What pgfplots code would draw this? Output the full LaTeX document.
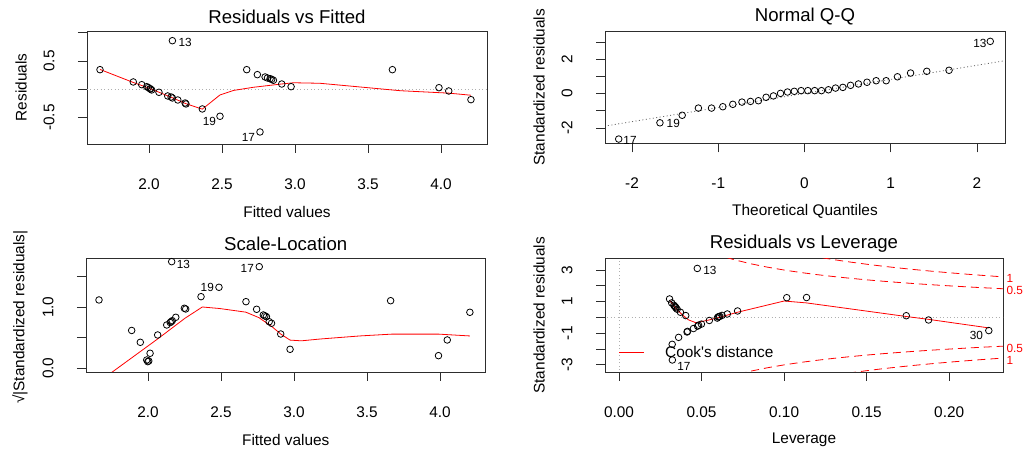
\documentclass[border=0pt]{standalone}
\usepackage{fontspec}
\setmainfont{Liberation Sans}
\usepackage{pgfplots}
\pgfplotsset{compat=1.18}
\definecolor{rred}{RGB}{255,0,0}
\definecolor{rgray}{RGB}{175,175,175}
\definecolor{boxc}{RGB}{45,45,45}
\newcommand{\lab}{\fontsize{15.4}{18}\selectfont}
\newcommand{\ttl}{\fontsize{18.6}{22}\selectfont}
\newcommand{\idf}{\fontsize{11.8}{14}\selectfont}
\pgfplotsset{
  rdiag/.style={
    scale only axis,
    anchor=south west,
    axis line style={boxc, line width=0.8pt},
    tick style={boxc, line width=0.8pt},
    tick align=outside,
    major tick length=9pt,
    xtick pos=left, ytick pos=left,
    clip mode=individual,
    tick label style={font=\lab},
    xticklabel style={anchor=center, yshift=-31pt},
    yticklabel style={anchor=center, xshift=-29pt, rotate=90},
    every axis x label/.style={at={(axis description cs:0.5,0)}, anchor=center, yshift=-68pt, font=\lab},
    every axis y label/.style={at={(axis description cs:0,0.5)}, anchor=center, xshift=-66pt, rotate=90, font=\lab},
    every axis title/.style={at={(axis description cs:0.5,1)}, anchor=center, yshift=14.5pt, font=\ttl},
  },
  pts/.style={only marks, mark=o, mark size=3.3pt, mark options={black, line width=0.8pt}},
  redl/.style={rred, line width=0.8pt, no marks},
  dotg/.style={rgray, line width=0.8pt, dash pattern=on 1pt off 2.5pt, no marks},
  cook/.style={rred, line width=0.8pt, dash pattern=on 8pt off 5pt, no marks},
}
\begin{document}
\begin{tikzpicture}
\fill[white] (0,0) rectangle (1026pt,454pt);
\useasboundingbox (0,0) rectangle (1026pt,454pt);

% ---------------- Residuals vs Fitted ----------------
\begin{axis}[rdiag, at={(87pt,310pt)}, width=400pt, height=113pt,
  xmin=1.575, xmax=4.315, ymin=-0.965, ymax=1.028,
  xtick={2,2.5,3,3.5,4}, xticklabels={2.0,2.5,3.0,3.5,4.0},
  ytick={-0.5,0,0.5,1}, yticklabels={-0.5,,0.5,},
  title={Residuals vs Fitted}, xlabel={Fitted values}, ylabel={Residuals}]
\addplot[dotg] coordinates {(1.5,0) (4.4,0)};
\addplot[redl] coordinates {(1.664,0.350) (1.892,0.120) (2.000,0.020) (2.160,-0.150) (2.253,-0.255) (2.365,-0.350) (2.486,-0.100) (2.580,-0.020) (2.714,0.035) (2.907,0.093) (2.990,0.115) (3.170,0.106) (3.490,0.030) (3.720,-0.025) (3.990,-0.060) (4.053,-0.068) (4.205,-0.105)};
\addplot[pts] coordinates {(1.664,0.346) (1.892,0.129) (1.950,0.081) (1.984,0.046) (1.995,0.030) (2.007,0.011) (2.010,0.003) (2.018,-0.012) (2.068,-0.053) (2.128,-0.118) (2.151,-0.136) (2.160,-0.153) (2.197,-0.189) (2.247,-0.242) (2.253,-0.259) (2.365,-0.347) (2.486,-0.476) (2.160,0.857) (2.669,0.346) (2.742,0.258) (2.795,0.217) (2.811,0.199) (2.829,0.187) (2.840,0.175) (2.852,0.159) (2.909,0.093) (2.973,0.046) (2.760,-0.753) (3.667,0.346) (3.986,0.028) (4.053,-0.030) (4.205,-0.183)};
\node[font=\idf] at (axis cs:2.247,0.822) {13};
\node[font=\idf] at (axis cs:2.413,-0.571) {19};
\node[font=\idf] at (axis cs:2.680,-0.847) {17};
\end{axis}

% ---------------- Normal Q-Q ----------------
\begin{axis}[rdiag, at={(605pt,310.5pt)}, width=400pt, height=112.5pt,
  xmin=-2.313, xmax=2.325, ymin=-2.91, ymax=3.667,
  xtick={-2,-1,0,1,2}, xticklabels={-2,-1,0,1,2},
  ytick={-2,-1,0,1,2,3}, yticklabels={-2,,0,,2,},
  title={Normal Q-Q}, xlabel={Theoretical Quantiles}, ylabel={Standardized residuals}]
\addplot[gray!80!black, line width=0.8pt, dash pattern=on 1pt off 2.5pt] coordinates {(-2.4,-1.962) (2.4,1.992)};
\addplot[pts] coordinates {(-2.154,-2.65) (-1.676,-1.70) (-1.418,-1.26) (-1.230,-0.84) (-1.078,-0.84) (-0.947,-0.76) (-0.831,-0.62) (-0.725,-0.49) (-0.626,-0.45) (-0.534,-0.41) (-0.445,-0.21) (-0.360,-0.13) (-0.278,0.02) (-0.197,0.10) (-0.118,0.14) (-0.039,0.18) (0.039,0.18) (0.118,0.18) (0.197,0.18) (0.278,0.23) (0.360,0.33) (0.445,0.37) (0.534,0.49) (0.626,0.57) (0.725,0.67) (0.831,0.76) (0.947,0.76) (1.078,0.99) (1.230,1.21) (1.418,1.31) (1.676,1.37) (2.154,3.06)};
\node[font=\idf] at (axis cs:2.035,2.947) {13};
\node[font=\idf] at (axis cs:-1.521,-1.731) {19};
\node[font=\idf] at (axis cs:-2.023,-2.708) {17};
\end{axis}

% ---------------- Scale-Location ----------------
\begin{axis}[rdiag, at={(86pt,82pt)}, width=399.5pt, height=113.5pt,
  xmin=1.575, xmax=4.312, ymin=-0.061, ymax=1.80,
  xtick={2,2.5,3,3.5,4}, xticklabels={2.0,2.5,3.0,3.5,4.0},
  ytick={0,0.5,1,1.5}, yticklabels={0.0,,1.0,},
  every axis y label/.append style={xshift=-2pt},
  title={Scale-Location}, xlabel={Fitted values}, ylabel={√|Standardized residuals|}]
\addplot[redl] coordinates {(1.664,-0.220) (2.071,0.490) (2.253,0.820) (2.372,1.005) (2.490,0.980) (2.670,0.920) (2.760,0.830) (2.850,0.680) (2.910,0.560) (2.973,0.462) (3.050,0.450) (3.180,0.480) (3.450,0.530) (3.670,0.560) (3.990,0.560) (4.205,0.530)};
\addplot[pts] coordinates {(1.664,1.120) (1.888,0.620) (1.947,0.426) (1.991,0.136) (1.998,0.109) (2.005,0.120) (2.014,0.246) (2.066,0.546) (2.128,0.710) (2.152,0.750) (2.158,0.764) (2.166,0.780) (2.190,0.836) (2.249,0.984) (2.258,0.972) (2.363,1.174) (2.486,1.328) (2.162,1.748) (2.671,1.092) (2.744,0.967) (2.790,0.874) (2.800,0.860) (2.811,0.846) (2.830,0.764) (2.846,0.738) (2.909,0.562) (2.973,0.311) (2.762,1.666) (3.662,1.108) (3.990,0.207) (4.050,0.464) (4.205,0.918)};
\node[font=\idf] at (axis cs:2.242,1.705) {13};
\node[font=\idf] at (axis cs:2.406,1.321) {19};
\node[font=\idf] at (axis cs:2.680,1.639) {17};
\end{axis}

% ---------------- Residuals vs Leverage ----------------
\begin{axis}[rdiag, at={(605pt,82pt)}, width=398pt, height=113.5pt,
  xmin=-0.0085, xmax=0.2326, ymin=-3.45, ymax=3.73,
  xtick={0,0.05,0.1,0.15,0.2}, xticklabels={0.00,0.05,0.10,0.15,0.20},
  ytick={-3,-2,-1,0,1,2,3}, yticklabels={-3,,-1,,1,,3},
  title={Residuals vs Leverage}, xlabel={Leverage}, ylabel={Standardized residuals}]
\addplot[dotg] coordinates {(-0.02,0) (0.25,0)};
\addplot[dotg] coordinates {(0,-4) (0,4)};
\addplot[cook] coordinates {(0.05,4.359) (0.06,3.958) (0.07,3.645) (0.08,3.391) (0.09,3.180) (0.10,3.000) (0.11,2.844) (0.12,2.708) (0.13,2.587) (0.14,2.479) (0.15,2.380) (0.16,2.291) (0.17,2.210) (0.18,2.134) (0.19,2.065) (0.20,2.000) (0.21,1.940) (0.22,1.883) (0.23,1.830) (0.24,1.780)};
\addplot[cook] coordinates {(0.10,4.243) (0.11,4.023) (0.12,3.830) (0.13,3.658) (0.14,3.505) (0.15,3.367) (0.16,3.240) (0.17,3.125) (0.18,3.018) (0.19,2.920) (0.20,2.828) (0.21,2.743) (0.22,2.663) (0.23,2.588) (0.24,2.517)};
\addplot[cook] coordinates {(0.05,-4.359) (0.06,-3.958) (0.07,-3.645) (0.08,-3.391) (0.09,-3.180) (0.10,-3.000) (0.11,-2.844) (0.12,-2.708) (0.13,-2.587) (0.14,-2.479) (0.15,-2.380) (0.16,-2.291) (0.17,-2.210) (0.18,-2.134) (0.19,-2.065) (0.20,-2.000) (0.21,-1.940) (0.22,-1.883) (0.23,-1.830) (0.24,-1.780)};
\addplot[cook] coordinates {(0.10,-4.243) (0.11,-4.023) (0.12,-3.830) (0.13,-3.658) (0.14,-3.505) (0.15,-3.367) (0.16,-3.240) (0.17,-3.125) (0.18,-3.018) (0.19,-2.920) (0.20,-2.828) (0.21,-2.743) (0.22,-2.663) (0.23,-2.588) (0.24,-2.517)};
\addplot[redl] coordinates {(0.0306,1.10) (0.0340,0.62) (0.0380,0.20) (0.0420,-0.15) (0.0465,-0.33) (0.0537,-0.18) (0.0605,0.00) (0.0718,0.33) (0.1000,1.04) (0.1136,0.92) (0.1740,0.06) (0.1875,-0.12) (0.2240,-0.66)};
\addplot[pts] coordinates {(0.1016,1.25) (0.0718,0.41) (0.0656,0.22) (0.0624,0.13) (0.0605,0.05) (0.0600,0.03) (0.0610,0.07) (0.0595,-0.04) (0.0547,-0.19) (0.0499,-0.42) (0.0482,-0.49) (0.0476,-0.55) (0.0451,-0.70) (0.0415,-0.88) (0.0412,-0.92) (0.0361,-1.26) (0.0322,-1.70) (0.0474,3.10) (0.0306,1.17) (0.0319,0.92) (0.0332,0.77) (0.0337,0.71) (0.0342,0.66) (0.0345,0.60) (0.0352,0.52) (0.0372,0.33) (0.0404,0.12) (0.0323,-2.69) (0.1136,1.26) (0.1740,0.11) (0.1875,-0.16) (0.2240,-0.83)};
\addplot[rred, line width=0.8pt, no marks] coordinates {(0,-2.2) (0.0150,-2.2)};
\node[font=\lab, anchor=west] at (axis cs:0.0258,-2.2) {Cook\textquotesingle s distance};
\node[font=\idf] at (axis cs:0.0551,2.943) {13};
\node[font=\idf] at (axis cs:0.0393,-3.114) {17};
\node[font=\idf] at (axis cs:0.2165,-1.108) {30};
\node[font=\idf, text=rred, anchor=west] at (axis cs:0.2326,2.48) {1};
\node[font=\idf, text=rred, anchor=west] at (axis cs:0.2326,1.74) {0.5};
\node[font=\idf, text=rred, anchor=west] at (axis cs:0.2326,-1.95) {0.5};
\node[font=\idf, text=rred, anchor=west] at (axis cs:0.2326,-2.69) {1};
\end{axis}
\end{tikzpicture}
\end{document}
